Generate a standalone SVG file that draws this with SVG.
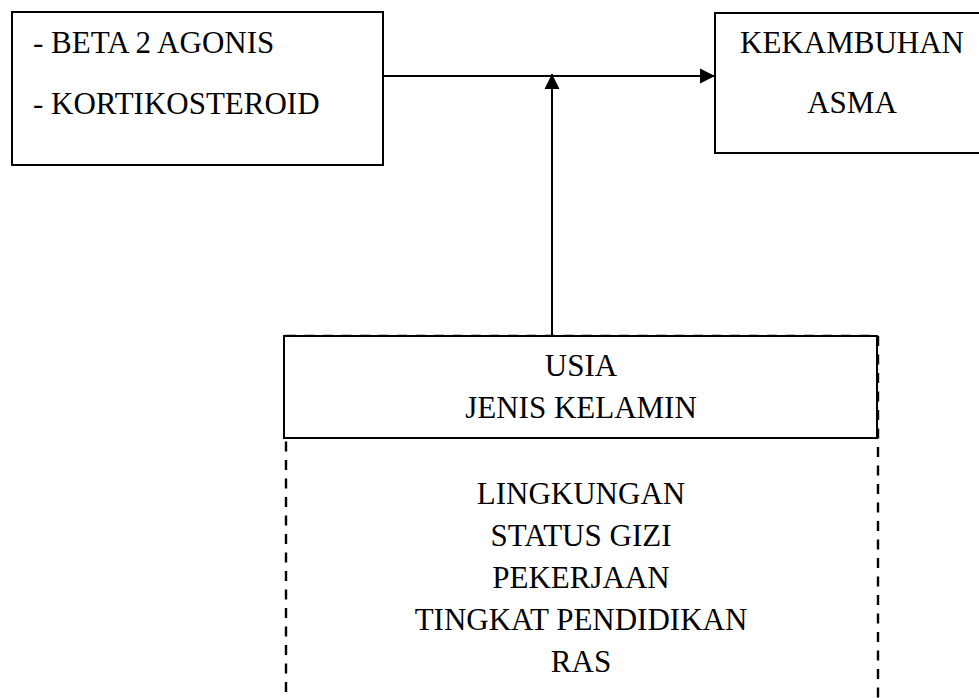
<svg xmlns="http://www.w3.org/2000/svg" width="979" height="698" viewBox="0 0 979 698">
<defs>
<style>
.box{fill:#fff;stroke:#000;stroke-width:2}
.dash{fill:none;stroke:#000;stroke-width:2.4;stroke-dasharray:10 8.5}
text{font-family:'Liberation Serif','Times New Roman','DejaVu Serif',serif;font-size:31px;fill:#000}
.c{text-anchor:middle}
.ln{stroke:#000;stroke-width:2;fill:none}
</style>
<marker id="ah" markerWidth="16" markerHeight="16" refX="15" refY="8" orient="auto" markerUnits="userSpaceOnUse" viewBox="0 0 16 16">
<path d="M0,0.5 L15,8 L0,15.5 Z" fill="#000"/>
</marker>
</defs>
<rect width="979" height="698" fill="#fff"/>
<g id="node-obat" font-family="Liberation Serif, serif">
<rect class="box" x="12" y="12" width="371" height="153"/>
<text x="33" y="53">- BETA 2 AGONIS</text>
<text x="33" y="114">- KORTIKOSTEROID</text>
</g>
<g id="node-kekambuhan">
<rect class="box" x="715" y="13" width="280" height="140"/>
<text class="c" x="852" y="53">KEKAMBUHAN</text>
<text class="c" x="852" y="113">ASMA</text>
</g>
<g id="node-faktor">
<rect class="dash" x="286" y="336" width="592" height="400"/>
<rect class="box" x="284" y="336" width="593" height="102"/>
<text class="c" x="581" y="376">USIA</text>
<text class="c" x="581" y="418">JENIS KELAMIN</text>
<text class="c" x="581" y="504">LINGKUNGAN</text>
<text class="c" x="581" y="546">STATUS GIZI</text>
<text class="c" x="581" y="588">PEKERJAAN</text>
<text class="c" x="581" y="630">TINGKAT PENDIDIKAN</text>
<text class="c" x="581" y="672">RAS</text>
</g>
<g id="connectors">
<line class="ln" x1="383" y1="76" x2="715" y2="76" marker-end="url(#ah)"/>
<line class="ln" x1="552" y1="335" x2="552" y2="74" marker-end="url(#ah)"/>
</g>
</svg>
